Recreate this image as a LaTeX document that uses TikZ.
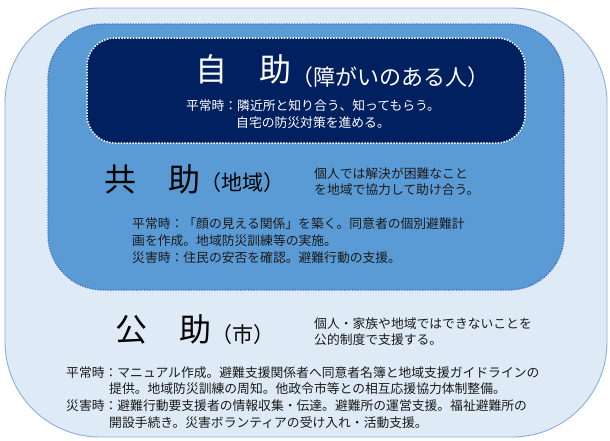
\documentclass[tikz,border=0pt]{standalone}
\usepackage{fontspec}
\setmainfont{Noto Sans CJK JP}
\definecolor{outerfill}{HTML}{DEEBF7}
\definecolor{outerline}{HTML}{8FAADC}
\definecolor{midfill}{HTML}{5B9BD5}
\definecolor{midline}{HTML}{4472C4}
\definecolor{darkfill}{HTML}{002060}
\definecolor{txtgray}{HTML}{1A1A1A}
\tikzset{
  title/.style={inner sep=0pt, anchor=base west, font=\fontsize{32}{36}\selectfont},
  paren/.style={inner sep=0pt, anchor=base west, font=\fontsize{21}{24}\selectfont},
  small/.style={inner sep=0pt, anchor=base west, font=\fontsize{12.8}{16}\selectfont},
  smallc/.style={inner sep=0pt, anchor=base, font=\fontsize{12.8}{16}\selectfont},
}
\begin{document}
\begin{tikzpicture}[x=1pt,y=-1pt]
\useasboundingbox (0,0) rectangle (610,440);
% boxes
\draw[fill=outerfill, draw=outerline, line width=0.9pt, rounded corners=95pt]
  (5,8) rectangle (607,437);
\draw[fill=midfill, draw=midline, line width=1.3pt, dash pattern=on 1.3pt off 1.3pt, rounded corners=55pt]
  (48,24) rectangle (564,290);
\draw[fill=darkfill, draw=white, line width=1.5pt, dash pattern=on 1.5pt off 1.4pt, rounded corners=28pt]
  (87,38) rectangle (525,143);
% 自助
\node[title, text=white] (jt) at (195,81) {自　助};
\node[paren, text=white, font=\fontsize{22}{24}\selectfont] (jp) at (291,85) {（障がいのある人）};
\node[smallc, text=white] (j1) at (313,110) {平常時：隣近所と知り合う、知ってもらう。};
\node[smallc, text=white] (j2) at (313,127) {自宅の防災対策を進める。};
% 共助
\node[title, text=black] (kt) at (104,191) {共　助};
\node[paren, text=black] (kp) at (200,190.5) {（地域）};
\node[small, text=txtgray] (kr1) at (314,178) {個人では解決が困難なこと};
\node[small, text=txtgray] (kr2) at (314,194) {を地域で協力して助け合う。};
\node[small, text=txtgray] (kl1) at (132,228) {平常時：「顔の見える関係」を築く。同意者の個別避難計};
\node[small, text=txtgray] (kl2) at (132,245) {画を作成。地域防災訓練等の実施。};
\node[small, text=txtgray] (kl3) at (132,262) {災害時：住民の安否を確認。避難行動の支援。};
% 公助
\node[title, text=black] (pt) at (115,341) {公　助};
\node[paren, text=black] (pp) at (211,342) {（市）};
\node[small, text=txtgray] (pr1) at (314,328) {個人・家族や地域ではできないことを};
\node[small, text=txtgray] (pr2) at (314,344) {公的制度で支援する。};
\node[small, text=txtgray] (pl1) at (66,377) {平常時：};
\node[small, text=txtgray] (pb1) at (117.2,377) {マニュアル作成。避難支援関係者へ同意者名簿と地域支援ガイドラインの};
\node[small, text=txtgray] (pb2) at (109,393.5) {提供。地域防災訓練の周知。他政令市等との相互応援協力体制整備。};
\node[small, text=txtgray] (pl2) at (66,410) {災害時：};
\node[small, text=txtgray] (pb3) at (117.2,410) {避難行動要支援者の情報収集・伝達。避難所の運営支援。福祉避難所の};
\node[small, text=txtgray] (pb4) at (109,427) {開設手続き。災害ボランティアの受け入れ・活動支援。};
\end{tikzpicture}
\end{document}
